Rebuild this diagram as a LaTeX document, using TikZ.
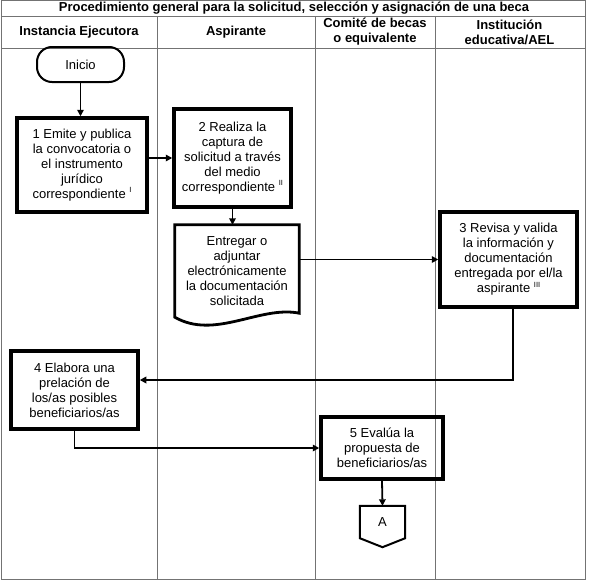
\documentclass[tikz,border=0pt]{standalone}
\usepackage{fontspec}
\setmainfont{Liberation Sans}
\usetikzlibrary{arrows.meta,calc}
\newcommand\rnum[1]{\raisebox{0.45em}{\fontsize{7.5}{8}\selectfont #1}}
\begin{document}
\begin{tikzpicture}[x=1pt,y=-1pt,
  grid/.style={draw=black!55, line width=0.9pt},
  txt/.style={align=center, inner sep=0pt, font=\fontsize{13}{15}\selectfont},
  proc/.style={txt, draw=black, line width=3.5pt},
  hdr/.style={align=center, inner sep=0pt, font=\bfseries\fontsize{13}{15}\selectfont},
  conn/.style={draw=black, line width=1.8pt, -{Triangle[length=6.5pt,width=6.5pt]}},
  thinshape/.style={draw=black, line width=2pt},
  docshape/.style={draw=black, line width=2.8pt, line join=miter}]
\useasboundingbox (0,0) rectangle (589,584);
\fill[white] (0,0) rectangle (589,584);
% table
\draw[grid] (1,0.5) rectangle (585,579);
\draw[grid] (1,16) -- (585,16);
\draw[grid] (1,48) -- (585,48);
\foreach \x in {157,315,435} \draw[grid] (\x,16) -- (\x,579);
% headers
\node[hdr] (title) at (294,8) {Procedimiento general para la solicitud, selección y asignación de una beca};
\node[hdr] (h1) at (79,32) {Instancia Ejecutora};
\node[hdr] (h2) at (236,32) {Aspirante};
\node[hdr] (h3) at (375,32) {Comité de becas\\o equivalente};
\node[hdr] (h4) at (509.5,32) {Institución\\educativa/AEL};
% nodes
\node[txt, thinshape, rounded corners=15pt, minimum width=87pt, minimum height=35pt] (ini) at (80.5,64.5) {Inicio};
\node[proc, minimum width=130pt, minimum height=94pt] (n1) at (82,165) {1 Emite y publica\\la convocatoria o\\el instrumento\\jurídico\\correspondiente \rnum{I}};
\node[proc, minimum width=117pt, minimum height=98pt] (n2) at (232.5,158) {2 Realiza la\\captura de\\solicitud a través\\del medio\\correspondiente \rnum{II}};
\node[txt, minimum width=124pt, minimum height=92pt] (doc) at (237,271) {Entregar o\\adjuntar\\electrónicamente\\la documentación\\solicitada};
\draw[docshape] (doc.north west) -- (doc.north east) -- ($(doc.south east)+(0,-4)$)
  .. controls ($(doc.south east)+(-39,-12)$) and ($(doc.south west)+(40,23)$) .. (doc.south west) -- cycle;
\node[proc, minimum width=137pt, minimum height=95pt] (n3) at (508.5,259.5) {3 Revisa y valida\\la información y\\documentación\\entregada por el/la\\aspirante \rnum{III}};
\node[proc, minimum width=127pt, minimum height=78pt] (n4) at (74.5,390) {4 Elabora una\\prelación de\\los/as posibles\\beneficiarios/as};
\node[proc, minimum width=122pt, minimum height=62pt] (n5) at (382,448) {5 Evalúa la\\propuesta de\\beneficiarios/as};
\node[txt, minimum width=45pt, minimum height=32pt] (A) at (382.5,522) {A};
\draw[thinshape, line join=miter] (A.north west) -- (A.north east) -- (A.south east) -- ($(A.south)+(0,9)$) -- (A.south west) -- cycle;
% connectors
\draw[conn] (ini.south) -- (ini.south |- n1.north);
\draw[conn] (n1.east |- n2.west) -- (n2.west);
\draw[conn] (n2.south) -- (n2.south |- doc.north);
\draw[conn] (doc.east |- n3.west) -- (n3.west);
\draw[conn] ([xshift=4.5pt]n3.south) |- ([yshift=10pt]n4.east);
\draw[conn] (n4.south) |- (n5.west);
\draw[conn] (n5.south) -- (A.north);
\end{tikzpicture}
\end{document}
